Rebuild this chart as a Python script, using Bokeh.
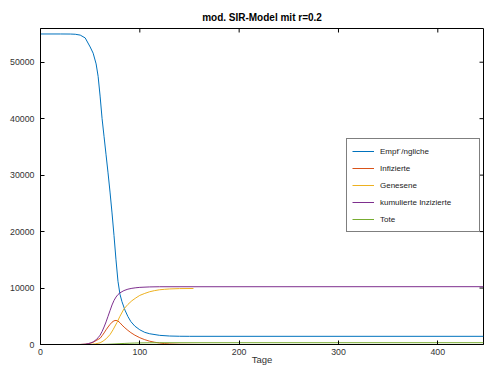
import math
from bokeh.plotting import figure
from bokeh.models import Range1d, FixedTicker, NumeralTickFormatter, Legend, LegendItem
from bokeh.embed import file_html
from bokeh.resources import INLINE

# ---- data ----
title_text = "mod. SIR-Model mit r=0.2"
x_label = "Tage"
series_names = ["Empf\u00b4/ngliche", "Infizierte", "Genesene", "kumulierte Inzizierte", "Tote"]
x_ticks = [0, 100, 200, 300, 400]
y_ticks = [0, 10000, 20000, 30000, 40000, 50000]
x_max = 446
y_max = 55970

days_s = [0, 20, 30, 35, 40, 45, 50, 53, 56, 58, 60, 62, 64, 66, 68, 70, 72, 74, 76, 78,
          80, 82, 85, 88, 91, 95, 100, 105, 110, 120, 130, 140, 150, 446]
susceptible = [55000, 55000, 54990, 54950, 54800, 54300, 52700, 51600, 49700, 47500, 44000,
               40000, 36800, 33600, 30400, 27000, 23300, 19300, 15000, 11200, 8900, 7600,
               6100, 4950, 4050, 3250, 2600, 2150, 1900, 1620, 1500, 1460, 1450, 1450]

days_i = [27, 40, 45, 48, 50, 53, 56, 58, 60, 62, 64, 66, 68, 70, 72, 74, 76, 78, 80, 82,
          85, 88, 91, 95, 100, 105, 110, 115, 120, 125, 130, 140, 160, 195]
infected = [0, 10, 50, 130, 220, 400, 700, 900, 1100, 1550, 2050, 2600, 3100, 3550, 3950,
            4200, 4270, 4150, 3850, 3450, 2950, 2500, 2100, 1650, 1200, 850, 580, 400, 260,
            160, 100, 40, 10, 0]

days_r = [27, 48, 50, 55, 60, 63, 66, 70, 73, 77, 80, 84, 88, 92, 96, 100, 105, 110, 115,
          120, 125, 130, 140, 154]
recovered = [0, 0, 20, 100, 300, 600, 1000, 1750, 2600, 3900, 5000, 6300, 7100, 7750, 8250,
             8700, 9050, 9350, 9550, 9700, 9780, 9840, 9900, 9920]

days_c = [27, 40, 45, 48, 50, 53, 56, 58, 60, 62, 64, 66, 68, 70, 72, 74, 76, 78, 80, 84,
          88, 92, 96, 100, 110, 120, 446]
cumulative = [0, 0, 50, 150, 250, 450, 850, 1200, 1650, 2300, 3100, 4000, 5000, 6000, 7000,
              7800, 8400, 8850, 9150, 9550, 9800, 9950, 10050, 10120, 10200, 10230, 10240]

days_d = [27, 55, 60, 65, 70, 75, 80, 85, 90, 95, 100, 110, 120, 446]
dead = [0, 0, 10, 30, 60, 100, 150, 195, 230, 260, 280, 305, 315, 320]

colors = ["#0072BD", "#D95319", "#EDB120", "#7E2F8E", "#77AC30"]

FONT = "Liberation Sans"

p = figure(width=492, height=367, output_backend="svg", toolbar_location=None,
           x_range=Range1d(0, x_max), y_range=Range1d(0, y_max),
           min_border_left=40, min_border_right=9, min_border_top=28, min_border_bottom=21)

p.title.text = title_text
p.title.align = "center"
p.title.text_font = FONT
p.title.text_font_size = "10px"
p.title.text_font_style = "bold"
p.title.text_color = "#000000"
p.title.standoff = 11

p.xgrid.visible = False
p.ygrid.visible = False
p.outline_line_color = "#000000"
p.outline_line_width = 1

for ax, ticks in ((p.xaxis[0], x_ticks), (p.yaxis[0], y_ticks)):
    ax.ticker = FixedTicker(ticks=ticks)
    ax.formatter = NumeralTickFormatter(format="0")
    ax.major_tick_in = 4
    ax.major_tick_out = 0
    ax.minor_tick_line_color = None
    ax.axis_line_color = "#000000"
    ax.major_tick_line_color = "#000000"
    ax.major_label_text_font = FONT
    ax.major_label_text_font_size = "8.8px"
    ax.major_label_text_color = "#333333"

p.xaxis[0].major_label_standoff = 4
p.yaxis[0].major_label_standoff = 6
p.xaxis[0].axis_label = x_label
p.xaxis[0].axis_label_text_font = FONT
p.xaxis[0].axis_label_text_font_size = "9.5px"
p.xaxis[0].axis_label_text_font_style = "normal"
p.xaxis[0].axis_label_text_color = "#333333"
p.xaxis[0].axis_label_standoff = -4

# mirrored tick marks on the top and right edges, at the tick values
p.ray(x=x_ticks, y=[y_max] * len(x_ticks), length=4, length_units="screen",
      angle=-math.pi / 2, line_color="#000000", line_width=1)
p.ray(x=[x_max] * len(y_ticks), y=y_ticks, length=4, length_units="screen",
      angle=math.pi, line_color="#000000", line_width=1)

r_s = p.line(days_s, susceptible, line_color=colors[0], line_width=1)
r_i = p.line(days_i, infected, line_color=colors[1], line_width=1)
r_r = p.line(days_r, recovered, line_color=colors[2], line_width=1)
r_c = p.line(days_c, cumulative, line_color=colors[3], line_width=1)
r_d = p.line(days_d, dead, line_color=colors[4], line_width=1)

legend = Legend(items=[LegendItem(label=n, renderers=[r]) for n, r in
                       zip(series_names, [r_s, r_i, r_r, r_c, r_d])],
                location=(306, 112), margin=0, padding=5, spacing=3,
                glyph_width=22, glyph_height=14, label_height=14, label_width=94,
                label_standoff=6, label_text_font=FONT, label_text_font_size="8px",
                label_text_color="#222222", border_line_color="#000000",
                border_line_width=1, background_fill_color="#ffffff",
                background_fill_alpha=1.0)
p.add_layout(legend)

open("out.html", "w").write(file_html(p, INLINE))
